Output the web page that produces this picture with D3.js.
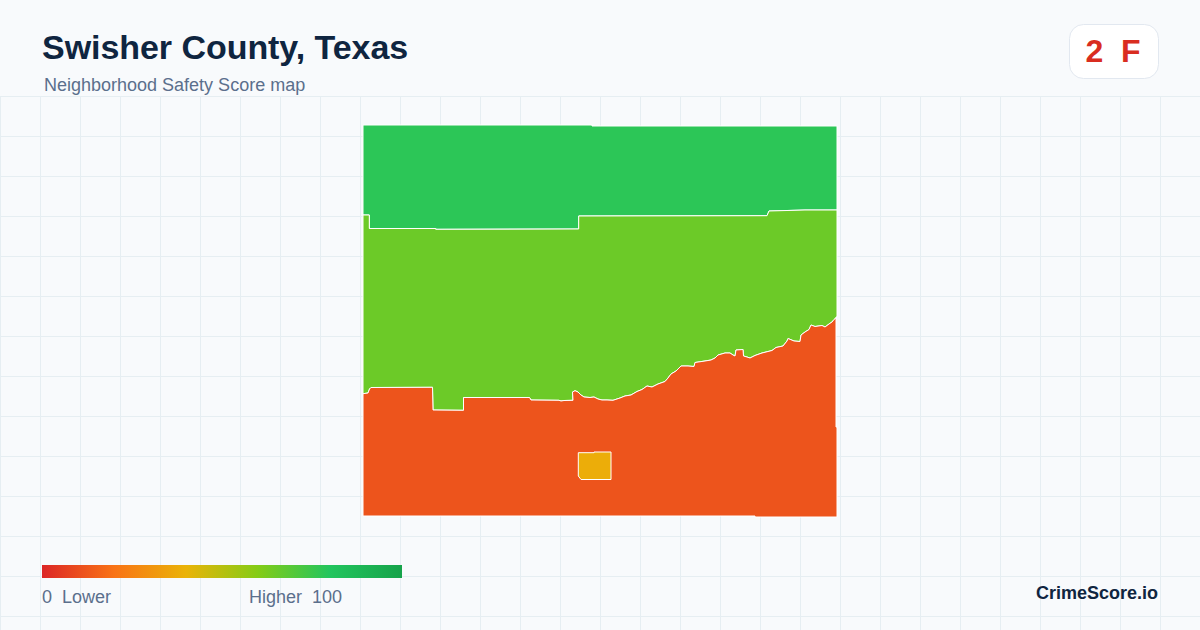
<!DOCTYPE html>
<html>
<head>
<meta charset="utf-8">
<script src="https://cdn.jsdelivr.net/npm/d3@7"></script>
<style>
	html, body { margin: 0; padding: 0; background: #f8fafc; }
	svg { display: block; font-family: "Liberation Sans", Arial, sans-serif; }
</style>
</head>
<body>
<script>
// map units are counted from the county's south west corner
const countyWidth = 474, countyHeight = 392;

// border between the north tract and the middle tract, east to west
const northBorder = [[474,307],[442,307],[406,306],[404,301.3],[215.7,301],[215.7,288],[72.7,287.7],[72.7,288.5],[6.3,288.5],[6.3,302],[0,302]];

// border between the middle tract and the south tract, west to east
const southBorder = [[0,123.3],[5,124],[6.5,128],[8,129.5],[69.5,129.7],[70,107],[100.5,106.7],[100.5,119.5],[166.5,119.5],[168,117],
	[196,116.7],[198,116],[201,116.5],[210,116.7],[209.5,125],[212,126.3],[215,125],[218,122],[221,120],[227,119.5],
	[231,120],[235,118],[239,117],[244,117],[250,116.7],[257,119],[262,121],[268,122],[274,125.5],[279,127.5],
	[284,131],[289,130],[295,133],[302,135.5],[305,139],[308,143],[313,146],[318,151],[325,151],[331,150.5],
	[332,154.5],[342,156],[348,157],[352,159],[355,162],[362,164],[367,164],[370,162],[372,161],[373,167],
	[380,167.5],[380.5,161],[384,160],[387,159],[392,161.5],[399,164],[403,165],[409,166.5],[413,169.5],[420,171],
	[424,176],[425,178.5],[431,176],[437,175.5],[438,182],[442,185],[446,187.5],[448,192],[452,190.5],[459,191.5],
	[462,190],[466,193],[469,195],[471,197.5],[474,200]];

const northEdge = [[0,392],[229,392],[229,391],[474,391]];
const southEdge = [[473,200],[473,90],[474,90],[474,0],[392,0],[392,1],[0,1]];
const smallTract = [[215.3,64.3],[231,64.3],[231,65],[248,65],[248,37.5],[218,37.5],[215.3,41]];

const tractNames = ["north", "middle", "south", "town"];
const tractScores = [78, 65, 12, 38];

const legendStops = [0, 20, 40, 60, 80, 100];
const legendColors = ["#dc2626", "#f97316", "#eab308", "#84cc16", "#22c55e", "#16a34a"];

const tractShapes = [
	northEdge.concat(northBorder),
	northBorder.concat(southBorder),
	southBorder.concat(southEdge),
	smallTract
];

const width = 1200,
	height = 630;

const svg = d3.select("body")
	.append("svg")
	.attr("width", width)
	.attr("height", height);

const defs = svg.append("defs");

// background grid
const pattern = defs.append("pattern")
	.attr("id", "grid")
	.attr("width", 40)
	.attr("height", 40)
	.attr("patternUnits", "userSpaceOnUse")
	.attr("y", 96);

pattern.append("path")
	.attr("d", "M40 0H0V40")
	.attr("fill", "none")
	.attr("stroke", "#e6eef2")
	.attr("stroke-width", 2);

svg.append("rect")
	.attr("width", width)
	.attr("height", height)
	.attr("fill", "#f8fafc");

svg.append("rect")
	.attr("y", 96)
	.attr("width", width)
	.attr("height", height - 96)
	.attr("fill", "url(#grid)");

// map
const x = d3.scaleLinear().domain([0, countyWidth]).range([363, 837]);
const y = d3.scaleLinear().domain([0, countyHeight]).range([517, 125]);
const color = d3.scaleLinear().domain(legendStops).range(legendColors);

const line = d3.line()
	.x(d => x(d[0]))
	.y(d => y(d[1]))
	.curve(d3.curveLinearClosed);

svg.append("g")
	.selectAll("path")
	.data(tractNames)
	.join("path")
	.attr("class", d => "tract " + d)
	.attr("d", (d, i) => line(tractShapes[i]))
	.attr("fill", (d, i) => color(tractScores[i]))
	.attr("stroke", "#fff")
	.attr("stroke-width", 1);

// legend
const legendScale = d3.scaleLinear().domain([0, 100]).range([42, 402]);

defs.append("linearGradient")
	.attr("id", "ramp")
	.selectAll("stop")
	.data(legendStops)
	.join("stop")
	.attr("offset", d => d + "%")
	.attr("stop-color", d => color(d));

svg.append("rect")
	.attr("x", legendScale(0))
	.attr("y", 565)
	.attr("width", legendScale(100) - legendScale(0))
	.attr("height", 13)
	.attr("fill", "url(#ramp)");

svg.append("text")
	.attr("x", 42)
	.attr("y", 603)
	.attr("font-size", 18)
	.attr("fill", "#5b6f8c")
	.attr("xml:space", "preserve")
	.text("0  Lower");

svg.append("text")
	.attr("x", 249)
	.attr("y", 603)
	.attr("font-size", 18)
	.attr("fill", "#5b6f8c")
	.attr("xml:space", "preserve")
	.text("Higher  100");

// header
svg.append("text")
	.attr("x", 42)
	.attr("y", 59)
	.attr("font-size", 34)
	.attr("font-weight", 700)
	.attr("letter-spacing", -0.05)
	.attr("fill", "#0f2540")
	.text("Swisher County, Texas");

svg.append("text")
	.attr("x", 44)
	.attr("y", 91)
	.attr("font-size", 18)
	.attr("fill", "#5b6f8c")
	.text("Neighborhood Safety Score map");

// score badge
svg.append("rect")
	.attr("x", 1069.5)
	.attr("y", 24.5)
	.attr("width", 89)
	.attr("height", 54)
	.attr("rx", 14)
	.attr("fill", "#fff")
	.attr("stroke", "#e2e8f0");

svg.append("text")
	.attr("x", 1113)
	.attr("y", 62)
	.attr("text-anchor", "middle")
	.attr("font-size", 32)
	.attr("font-weight", 700)
	.attr("fill", "#d92d20")
	.attr("xml:space", "preserve")
	.text("2  F");

svg.append("text")
	.attr("x", 1158)
	.attr("y", 599)
	.attr("text-anchor", "end")
	.attr("font-size", 18)
	.attr("font-weight", 700)
	.attr("fill", "#0f2540")
	.text("CrimeScore.io");
</script>
</body>
</html>
